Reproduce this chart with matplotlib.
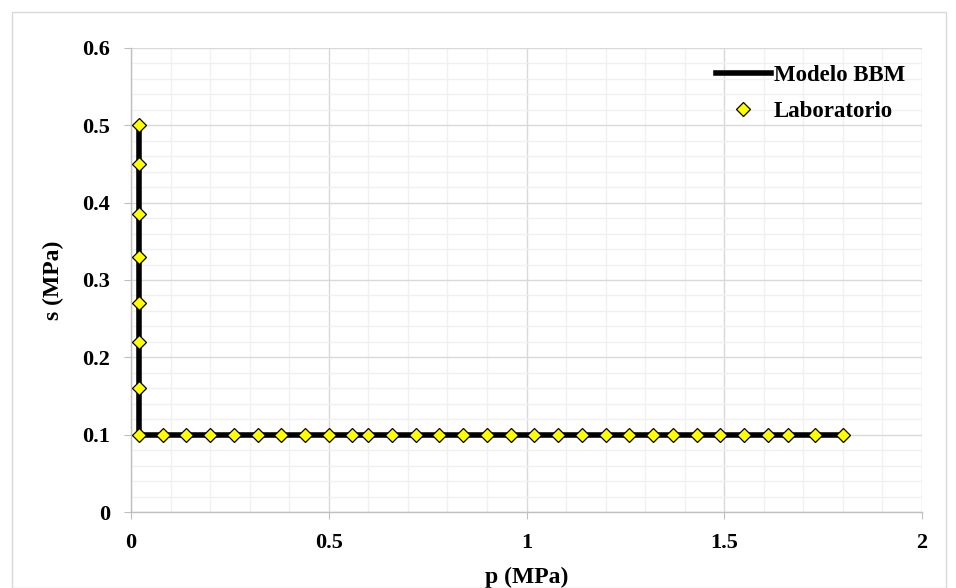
import matplotlib
matplotlib.use("Agg")
import matplotlib.pyplot as plt
from matplotlib.ticker import MultipleLocator, FuncFormatter
from matplotlib.patches import Rectangle

# BBM model path: wetting at constant p, then loading at constant suction
model_p = [0.02, 0.02, 1.80]
model_s = [0.50, 0.10, 0.10]

# Laboratory points along the same path
lab_p = [0.02, 0.02, 0.02, 0.02, 0.02, 0.02, 0.02,
         0.02, 0.08, 0.14, 0.20, 0.26, 0.32, 0.38, 0.44, 0.50, 0.56,
         0.60, 0.66, 0.72, 0.78, 0.84, 0.90, 0.96, 1.02, 1.08, 1.14,
         1.20, 1.26, 1.32, 1.37, 1.43, 1.49, 1.55, 1.61, 1.66, 1.73, 1.80]
lab_s = [0.50, 0.45, 0.385, 0.33, 0.27, 0.22, 0.16,
         0.10, 0.10, 0.10, 0.10, 0.10, 0.10, 0.10, 0.10, 0.10, 0.10,
         0.10, 0.10, 0.10, 0.10, 0.10, 0.10, 0.10, 0.10, 0.10, 0.10,
         0.10, 0.10, 0.10, 0.10, 0.10, 0.10, 0.10, 0.10, 0.10, 0.10, 0.10]

plt.rcParams['font.family'] = ['Liberation Serif', 'DejaVu Serif']
plt.rcParams['font.weight'] = 'bold'

fig = plt.figure(figsize=(9.56, 5.88), dpi=100)
fig.patches.append(Rectangle((12 / 956, 0), 934 / 956, 1 - 12 / 588,
                             transform=fig.transFigure, fill=False,
                             edgecolor='#d9d9d9', linewidth=1.0))
ax = fig.add_axes([131 / 956, 1 - 512 / 588, 791 / 956, 464 / 588])

ax.plot(model_p, model_s, color='black', linewidth=4.0, label='Modelo BBM',
        zorder=3, solid_joinstyle='miter')
ax.plot(lab_p, lab_s, linestyle='none', marker='D', markersize=7,
        markerfacecolor='#ffff00', markeredgecolor='black',
        markeredgewidth=0.9, label='Laboratorio', zorder=4)

ax.set_xlim(0, 2)
ax.set_ylim(0, 0.6)
ax.xaxis.set_major_locator(MultipleLocator(0.5))
ax.xaxis.set_minor_locator(MultipleLocator(0.1))
ax.yaxis.set_major_locator(MultipleLocator(0.1))
ax.yaxis.set_minor_locator(MultipleLocator(0.02))

fmt = FuncFormatter(lambda v, pos: f"{v:g}")
ax.xaxis.set_major_formatter(fmt)
ax.yaxis.set_major_formatter(fmt)

ax.grid(which='major', color='#d9d9d9', linewidth=1.0, zorder=0)
ax.grid(which='minor', color='#f0f0f0', linewidth=1.0, zorder=0)
ax.set_axisbelow(True)

for side in ('top', 'right'):
    ax.spines[side].set_visible(False)
for side in ('left', 'bottom'):
    ax.spines[side].set_color('#bfbfbf')
    ax.spines[side].set_linewidth(1.0)

ax.tick_params(which='major', length=5, color='#bfbfbf', labelsize=16, pad=10)
ax.tick_params(which='minor', length=0)
for lbl in ax.get_xticklabels() + ax.get_yticklabels():
    lbl.set_fontweight('bold')

ax.set_xlabel('p (MPa)', fontsize=17, fontweight='bold', labelpad=10)
ax.set_ylabel('s (MPa)', fontsize=17, fontweight='bold', labelpad=13)

leg = ax.legend(loc='upper right', frameon=False, fontsize=16.5,
                handlelength=2.4, handletextpad=0.15, labelspacing=0.65,
                borderpad=0, borderaxespad=0,
                bbox_to_anchor=(0.979, 0.963))
for t in leg.get_texts():
    t.set_fontweight('bold')

fig.savefig('out.png', dpi=100)
